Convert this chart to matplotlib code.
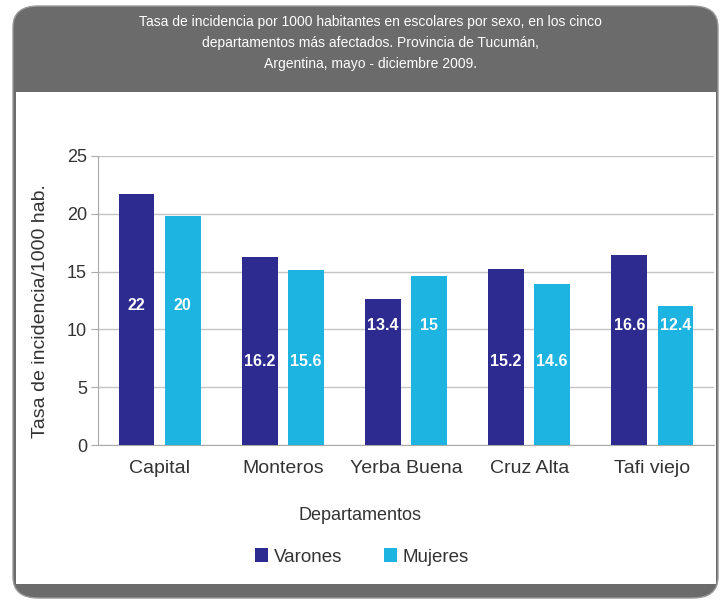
import numpy as np
import matplotlib.pyplot as plt
from matplotlib.patches import FancyBboxPatch, Rectangle

plt.rcParams['font.family'] = ['Liberation Sans', 'DejaVu Sans']

departamentos = ['Capital', 'Monteros', 'Yerba Buena', 'Cruz Alta', 'Tafi viejo']
varones = [21.7, 16.3, 12.6, 15.2, 16.4]
mujeres = [19.8, 15.1, 14.6, 13.9, 12.0]
etiquetas_varones = ['22', '16.2', '13.4', '15.2', '16.6']
etiquetas_mujeres = ['20', '15.6', '15', '14.6', '12.4']

titulo = ('Tasa de incidencia por 1000 habitantes en escolares por sexo, en los cinco\n'
          'departamentos más afectados. Provincia de Tucumán,\n'
          'Argentina, mayo - diciembre 2009.')

col_v = '#2d2b8f'
col_m = '#1db4e1'
gris = '#6b6b6b'
texto = '#333333'

fig = plt.figure(figsize=(7.24, 6.0), dpi=100)

# marco con cabecera y pie gris
W, H = 724, 600
def fx(px):
    return px / W
def fy(py):
    return 1 - py / H

fig.patches.append(FancyBboxPatch((fx(13), fy(598)), fx(705), fy(6) - fy(598),
                                  boxstyle='round,pad=0,rounding_size=0.035',
                                  transform=fig.transFigure, facecolor=gris,
                                  edgecolor='#9a9a9a', lw=1, zorder=0))
fig.patches.append(Rectangle((fx(16), fy(584)), fx(700), fy(92) - fy(584),
                             transform=fig.transFigure, facecolor='white',
                             edgecolor='none', zorder=1))
fig.text(fx(370), fy(43), titulo, ha='center', va='center', color='white',
         fontsize=10, linespacing=1.65)

ax = fig.add_axes([fx(98), fy(445), fx(616), fy(156) - fy(445)])
ax.set_zorder(3)
x = np.arange(len(departamentos))
w = 0.29
off = 0.187
bv = ax.bar(x - off, varones, w, color=col_v, label='Varones', zorder=3)
bm = ax.bar(x + off, mujeres, w, color=col_m, label='Mujeres', zorder=3)

# etiquetas de valores (posición vertical como en el original)
pos_etiq = [12.1, 7.2, 10.3, 7.2, 10.3]
for i in range(len(departamentos)):
    ax.text(x[i] - off, pos_etiq[i], etiquetas_varones[i], ha='center', va='center',
            color='white', fontsize=11.5, fontweight='bold', zorder=4)
    ax.text(x[i] + off, pos_etiq[i], etiquetas_mujeres[i], ha='center', va='center',
            color='white', fontsize=11.5, fontweight='bold', zorder=4)

ax.set_xlim(-0.5, len(departamentos) - 0.5)
ax.set_ylim(0, 25)
ax.set_yticks([0, 5, 10, 15, 20, 25])
ax.set_xticks(x)
ax.set_xticklabels(departamentos, fontsize=14, color=texto)
ax.tick_params(axis='y', labelsize=13, labelcolor=texto, length=5, color='#aaaaaa', pad=3)
ax.tick_params(axis='x', length=0, pad=11)
ax.yaxis.grid(True, color='#c4c4c4', lw=1)
ax.set_axisbelow(True)
for s in ['top', 'right']:
    ax.spines[s].set_visible(False)
ax.spines['left'].set_color('#aaaaaa')
ax.spines['bottom'].set_color('#aaaaaa')
ax.set_ylabel('Tasa de incidencia/1000 hab.', fontsize=14, color=texto)
ax.yaxis.set_label_coords((41 - 98) / 616, (445 - 311) / 289)
ax.yaxis.label.set_va('center')
ax.set_xlabel('Departamentos', fontsize=13, color=texto)
ax.xaxis.set_label_coords((360 - 98) / 616, (445 - 515) / 289)
ax.xaxis.label.set_va('center')

leg = fig.legend(handles=[bv, bm], loc='center', bbox_to_anchor=(fx(362), fy(557)),
                 ncol=2, frameon=False, fontsize=13.5, handlelength=0.7, handleheight=0.7,
                 columnspacing=2.2, handletextpad=0.3, labelcolor=texto)
leg.set_zorder(4)

fig.savefig('out.png', dpi=100)
